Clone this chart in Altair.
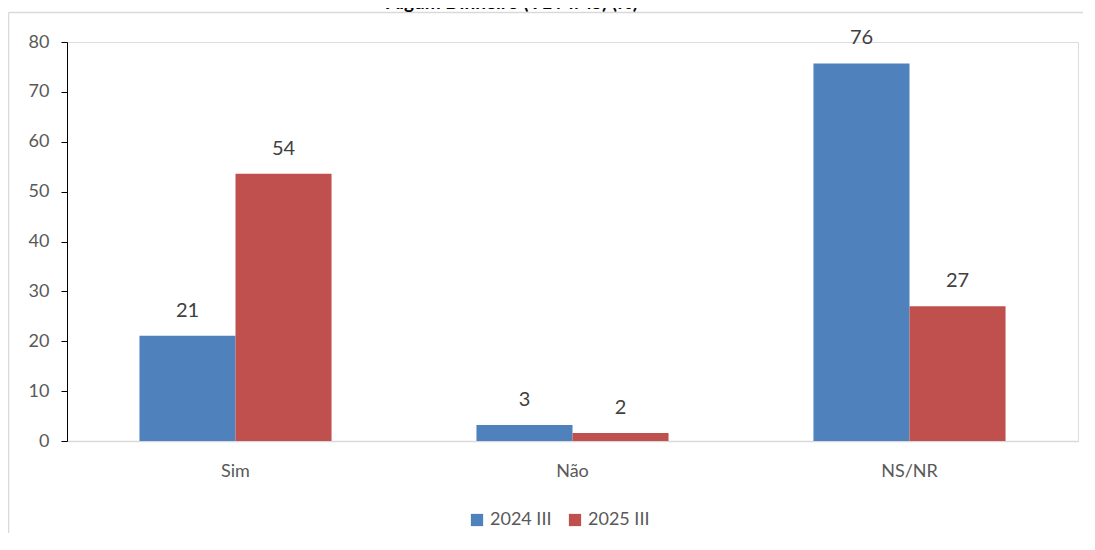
import altair as alt
import pandas as pd

categories = ["Sim", "Não", "NS/NR"]
series = ["2024 III", "2025 III"]
values_2024 = [21.1, 3.2, 75.7]
values_2025 = [53.6, 1.6, 27.0]
y_ticks = [0, 10, 20, 30, 40, 50, 60, 70, 80]
title_text = "Algum Dinheiro (VL MMS) (%)"
colors = ["#4F81BD", "#C0504D"]

rows = []
for c, a, b in zip(categories, values_2024, values_2025):
    rows.append({"cat": c, "serie": series[0], "v": a})
    rows.append({"cat": c, "serie": series[1], "v": b})
df = pd.DataFrame(rows)

W, H = 1011, 399
PAD_R, PAD_B = 5, 92
FONT = "Lato"

xenc = alt.X(
    "cat:N", sort=categories,
    scale=alt.Scale(paddingInner=0.43, paddingOuter=0.215),
    axis=alt.Axis(title=None, labelAngle=0, domainColor="#d9d9d9", domainWidth=1.5,
                  ticks=False, labelPadding=21, labelFontSize=18, labelColor="#595959",
                  labelFont=FONT),
)
yenc = alt.Y(
    "v:Q", scale=alt.Scale(domain=[0, 80], nice=False),
    axis=alt.Axis(title=None, values=y_ticks, grid=False, domainColor="black",
                  tickColor="black", tickSize=6, labelPadding=12, labelColor="#595959",
                  labelFontSize=18, labelFont=FONT),
)
xoff = alt.XOffset("serie:N", sort=series)

bars = alt.Chart(df).mark_bar().encode(
    x=xenc, xOffset=xoff, y=yenc,
    color=alt.Color(
        "serie:N", scale=alt.Scale(domain=series, range=colors),
        legend=alt.Legend(title=None, orient="none", legendX=401, legendY=469,
                          direction="horizontal", symbolType="square", symbolSize=150,
                          labelFontSize=18, labelColor="#595959", labelFont=FONT,
                          columnPadding=14, symbolStrokeWidth=0),
    ),
)

labels = alt.Chart(df).mark_text(
    dy=-19, baseline="alphabetic", fontSize=20, color="#404040", font=FONT
).encode(x=xenc, xOffset=xoff, y=yenc, text=alt.Text("v:Q", format=".0f"))

one = pd.DataFrame({"t": [title_text]})
frame_top = alt.Chart(one).mark_rule(stroke="#d9d9d9", strokeWidth=1.5).encode(
    x=alt.value(-58.5), x2=alt.value(1027), y=alt.value(-29.5)
)
frame_left = alt.Chart(one).mark_rule(stroke="#d9d9d9", strokeWidth=1.5).encode(
    x=alt.value(-58.5), y=alt.value(-29.5), y2=alt.value(506)
)
title = alt.Chart(one).mark_text(
    fontSize=19, fontWeight="bold", font=FONT, color="#000000", baseline="alphabetic"
).encode(x=alt.value(445), y=alt.value(-33), text="t:N")

chart = alt.layer(frame_top, frame_left, bars, labels, title).properties(
    width=W, height=H,
    autosize=alt.AutoSizeParams(type="none"),
    padding={"left": 59, "top": 34, "right": PAD_R, "bottom": PAD_B},
).configure_view(stroke=None).configure(font=FONT)

chart.save("out.html", embed_options={"renderer": "svg", "actions": False})
